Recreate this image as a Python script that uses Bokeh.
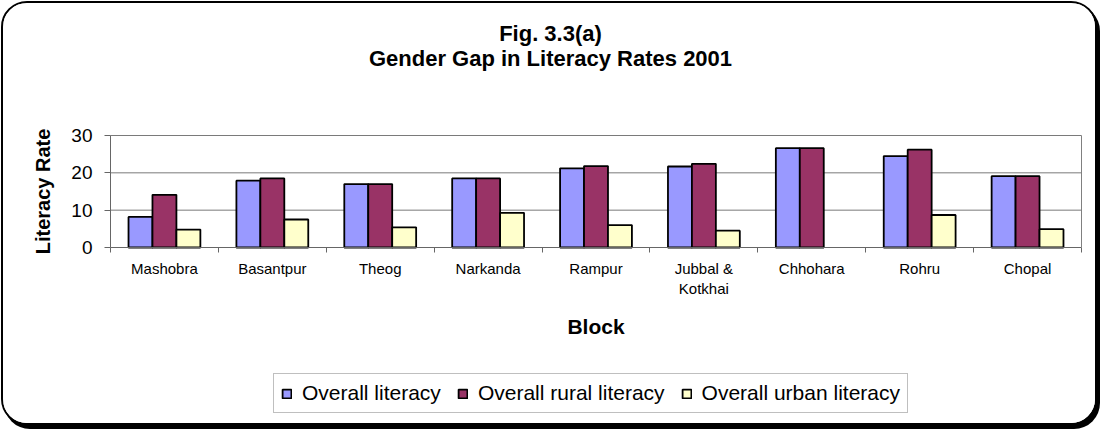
from bokeh.plotting import figure
from bokeh.models import (Range1d, FixedTicker, Legend, LegendItem, Label,
                          ColumnDataSource, LinearAxis)
from bokeh.layouts import column
from bokeh.transform import dodge
from bokeh.embed import file_html
from bokeh.resources import INLINE

# ---- data -------------------------------------------------------------
blocks = ["Mashobra", "Basantpur", "Theog", "Narkanda", "Rampur",
          "Jubbal &\nKotkhai", "Chhohara", "Rohru", "Chopal"]
overall_literacy = [8.2, 17.9, 17.0, 18.5, 21.2, 21.7, 26.6, 24.5, 19.1]
rural_literacy = [14.1, 18.5, 17.0, 18.5, 21.8, 22.4, 26.6, 26.2, 19.1]
urban_literacy = [4.8, 7.5, 5.4, 9.3, 6.0, 4.5, float("nan"), 8.7, 4.9]
y_ticks = [0, 10, 20, 30]
series_names = ["Overall literacy", "Overall rural literacy", "Overall urban literacy"]
colors = ["#9999FF", "#993366", "#FFFFCC"]
title_lines = ["Fig. 3.3(a)", "Gender Gap in Literacy Rates 2001"]

FONT = "Liberation Sans"

# ---- layout (canvas pixels) -------------------------------------------
W, H = 1092, 420
PL, PR, PT, PB = 107, 1078, 132, 244     # plot area edges on the canvas
n = len(blocks)
ymax = y_ticks[-1]
xs_per_px = n / (PR - PL)
ys_per_px = ymax / (PB - PT)
x_range = Range1d(-PL * xs_per_px, n + (W - PR) * xs_per_px)
y_range = Range1d(-(H - PB) * ys_per_px, ymax + PT * ys_per_px)

pos = [i + 0.5 for i in range(n)]
src = ColumnDataSource(dict(x=pos, overall=overall_literacy,
                            rural=rural_literacy, urban=urban_literacy))

p = figure(width=W, height=H, output_backend="svg", toolbar_location=None,
           x_range=x_range, y_range=y_range, min_border=0)
p.title = None
p.border_fill_color = "white"
p.background_fill_color = "white"
p.outline_line_color = None
p.xgrid.visible = False
p.ygrid.visible = False

# horizontal gridlines across the plot area
grid_y = y_ticks[1:]
p.segment(x0=[0] * len(grid_y), x1=[n] * len(grid_y), y0=grid_y, y1=grid_y,
          line_color="#7a7a7a", line_width=1)

w = 0.222
renderers = []
for col, off, c in zip(["overall", "rural", "urban"], [-w, 0, w], colors):
    r = p.vbar(x=dodge("x", off, range=p.x_range), top=col, width=w, source=src,
               fill_color=c, line_color="black", line_width=1.8)
    renderers.append(r)

# x axis
xa = p.xaxis[0]
xa.fixed_location = 0
xa.bounds = (0, n)
xa.ticker = FixedTicker(ticks=pos, minor_ticks=list(range(n + 1)))
xa.major_label_overrides = {x: b for x, b in zip(pos, blocks)}
xa.major_tick_out = 0
xa.major_tick_in = 0
xa.minor_tick_out = 5
xa.minor_tick_in = 0
xa.axis_line_color = "#666666"
xa.minor_tick_line_color = "#666666"
xa.major_label_text_font = FONT
xa.major_label_text_font_size = "15px"
xa.major_label_text_color = "black"
xa.major_label_standoff = 7
xa.axis_label = "Block"
xa.axis_label_text_font = FONT
xa.axis_label_text_font_size = "21px"
xa.axis_label_text_font_style = "bold"
xa.axis_label_text_color = "black"
xa.axis_label_standoff = 15

# y axis
ya = p.yaxis[0]
ya.fixed_location = 0
ya.bounds = (0, ymax)
ya.ticker = FixedTicker(ticks=y_ticks)
ya.major_tick_out = 6
ya.major_tick_in = 0
ya.minor_tick_out = 0
ya.minor_tick_in = 0
ya.axis_line_color = "#666666"
ya.major_tick_line_color = "#666666"
ya.major_label_text_font = FONT
ya.major_label_text_font_size = "19px"
ya.major_label_text_color = "black"
ya.major_label_standoff = 12
ya.axis_label = "Literacy Rate"
ya.axis_label_text_font = FONT
ya.axis_label_text_font_size = "20px"
ya.axis_label_text_font_style = "bold"
ya.axis_label_text_color = "black"
ya.axis_label_standoff = 14

# thin grey edge on the right of the plot area
ra = LinearAxis(fixed_location=n, bounds=(0, ymax), ticker=FixedTicker(ticks=[]),
                axis_line_color="#808080", major_tick_line_color=None,
                minor_tick_line_color=None, major_label_text_alpha=0)
p.add_layout(ra, "right")

# titles
for txt, cy in zip(title_lines, [30, 55]):
    p.add_layout(Label(x=547, y=H - cy, x_units="screen", y_units="screen",
                       text=txt, text_align="center", text_baseline="middle",
                       text_font=FONT, text_font_size="22px",
                       text_font_style="bold", text_color="black"))

legend = Legend(items=[LegendItem(label=s, renderers=[r])
                       for s, r in zip(series_names, renderers)],
                orientation="horizontal", location=(270, H - 410))
legend.label_text_font = FONT
legend.label_text_font_size = "21px"
legend.label_text_color = "black"
legend.glyph_width = 11
legend.glyph_height = 11
legend.label_standoff = 10
legend.spacing = 16
legend.padding = 7
legend.margin = 0
legend.border_line_color = "#808080"
legend.border_line_width = 1
legend.background_fill_color = "white"
p.add_layout(legend)

layout = column(p, styles={"border": "2px solid #000", "border-radius": "26px",
                           "box-shadow": "3px 4px 0 0 #000", "overflow": "hidden",
                           "margin": "1px 0 0 1px", "background": "white"})

open("out.html", "w").write(file_html(layout, INLINE))
